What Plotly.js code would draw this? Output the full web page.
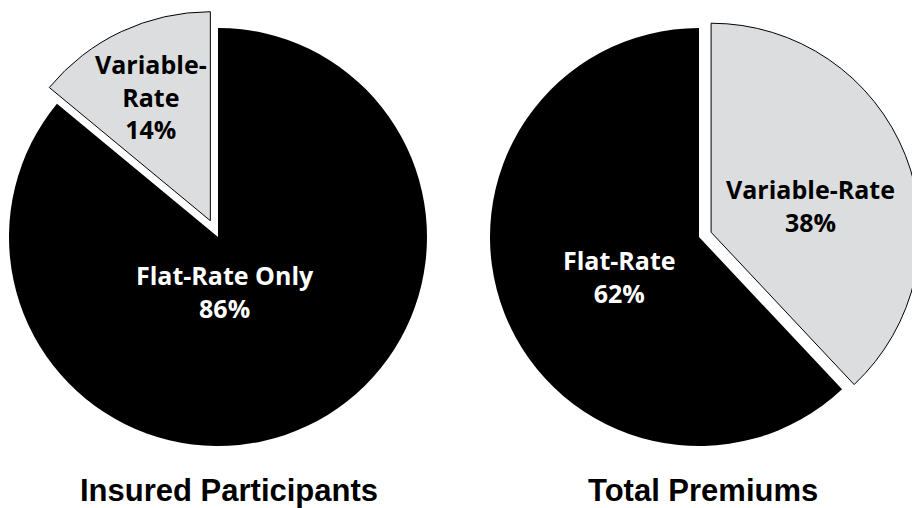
<!DOCTYPE html>
<html>
<head>
<meta charset="utf-8">
<script src="https://cdn.plot.ly/plotly-3.0.1.min.js"></script>
<style>
html,body{margin:0;padding:0;overflow:hidden;background:#fff;width:912px;height:508px;}
#chart{position:absolute;left:-24px;top:0;width:960px;height:508px;}
</style>
</head>
<body>
<div id="chart"></div>
<script>
// ---- data ----
const leftTitle = 'Insured Participants';
const leftLabels = ['Flat-Rate Only', 'Variable-Rate'];
const leftValues = [86, 14];

const rightTitle = 'Total Premiums';
const rightLabels = ['Variable-Rate', 'Flat-Rate'];
const rightValues = [38, 62];

// ---- styling / layout helpers ----
const W = 960, H = 508, OFF = 24;
const GRAY = '#dcdddf';
const LABEL_FONT = '"Open Sans", "Noto Sans", sans-serif';
const TITLE_FONT = '"Liberation Sans", Arial, Helvetica, sans-serif';

function domainFor(cx, cy, r, pull) {
  const s = r * (1 + pull);
  const x = cx + OFF;
  const yb = H - cy;
  return { x: [(x - s) / W, (x + s) / W], y: [(yb - s) / H, (yb + s) / H] };
}
function px(x) { return (x + OFF) / W; }
function py(y) { return 1 - y / H; }
function pct(v, values) {
  const t = values.reduce((a, b) => a + b, 0);
  return Math.round(100 * v / t) + '%';
}

const pullL = 18 / 209, pullR = 13 / 209;

const traces = [
  {
    type: 'pie', labels: leftLabels, values: leftValues, sort: false,
    direction: 'clockwise', rotation: 0,
    pull: [0, pullL], textinfo: 'none', hoverinfo: 'label+percent',
    marker: { colors: ['#000000', GRAY], line: { color: ['#000', '#000'], width: [0, 1] } },
    domain: domainFor(218, 237, 209, pullL)
  },
  {
    type: 'pie', labels: rightLabels, values: rightValues, sort: false,
    direction: 'clockwise', rotation: 0,
    pull: [pullR, 0], textinfo: 'none', hoverinfo: 'label+percent',
    marker: { colors: [GRAY, '#000000'], line: { color: ['#000', '#000'], width: [1, 0] } },
    domain: domainFor(699, 237, 209, pullR)
  }
];

function lab(text, x, y, color, size) {
  return { text: text, x: px(x), y: py(y), xref: 'paper', yref: 'paper',
    xanchor: 'center', yanchor: 'middle', showarrow: false, align: 'center',
    font: { family: LABEL_FONT, size: size, color: color, weight: 'bold' } };
}
function title(text, x, y, size) {
  return { text: text, x: px(x), y: py(y), xref: 'paper', yref: 'paper', xanchor: 'center', yanchor: 'middle',
    showarrow: false, font: { family: TITLE_FONT, size: size, color: '#000', weight: 'bold' } };
}

const annotations = [
  lab(leftLabels[1].replace('-', '-<br>') + '<br>' + pct(leftValues[1], leftValues), 150.5, 96, '#000', 25),
  lab(leftLabels[0] + '<br>' + pct(leftValues[0], leftValues), 225, 291, '#fff', 25),
  lab(rightLabels[0] + '<br>' + pct(rightValues[0], rightValues), 810, 206, '#000', 25),
  lab(rightLabels[1] + '<br>' + pct(rightValues[1], rightValues), 619, 276, '#fff', 25),
  title(leftTitle, 229, 490, 31),
  title(rightTitle, 702.5, 490, 31)
];

const layout = {
  width: W, height: H, margin: { l: 0, r: 0, t: 0, b: 0 },
  showlegend: false, paper_bgcolor: '#fff', plot_bgcolor: '#fff',
  annotations: annotations
};

Plotly.newPlot('chart', traces, layout, { displayModeBar: false, staticPlot: true });
</script>
</body>
</html>
